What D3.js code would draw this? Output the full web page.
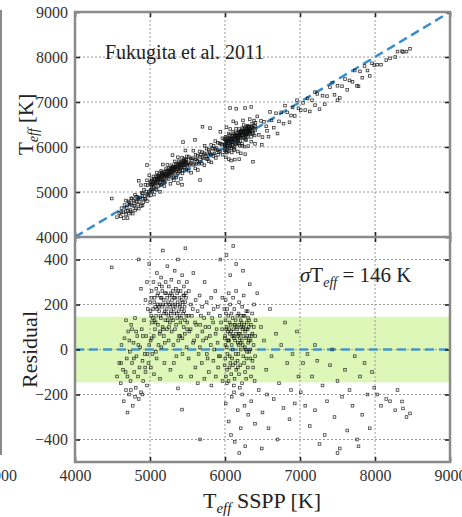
<!DOCTYPE html>
<html>
<head>
<meta charset="utf-8">
<script src="https://cdn.jsdelivr.net/npm/d3@7"></script>
<style>
  body { margin: 0; background: #fff; }
  text { font-family: "Liberation Serif", "DejaVu Serif", serif; fill: #222; }
</style>
</head>
<body>
<div id="chart"></div>
<script>
// Set the dimensions of the figure
const width = 462;
const height = 517;

// tick values for both panels
const tempTicks = [4000, 5000, 6000, 7000, 8000, 9000];
const residTicks = [-400, -200, 0, 200, 400];

// half width of the green residual band
const sigmaT = 146;

// stars as [T_eff SSPP, residual], grouped by temperature
const coolStars = [[4490,365],[4560,-120],[4590,-60],[4610,-150],[4620,20],[4640,-90],[4650,-230],[4660,50],[4680,-180],[4690,-40],
  [4700,-120],[4710,80],[4720,-200],[4730,-10],[4740,-140],[4750,110],[4760,-60],[4770,-250],[4780,30],[4790,-100],
  [4800,140],[4810,-170],[4820,-30],[4830,60],[4840,-120],[4850,400],[4860,-80],[4870,10],[4880,-190],[4890,90],
  [4900,-50],[4910,-140],[4920,130],[4930,-20],[4940,-100],[4950,60],[4960,-160],[4970,180],[4980,-60],[4990,20],
  [4700,-280],[4800,-210],[4900,-200],[4850,-220],[4760,90],[4940,220],[4880,270],[4960,300],[4990,380],[4680,130],
  [4960,640],[4615,-60],[4675,-100],[4725,40],[4785,-40],[4845,20],[4905,60],[4965,-20],[4745,-180],[4815,80],
  [4935,-80]];

const kStars = [[5003,210],[5008,40],[5011,-80],[5016,150],[5022,260],[5027,120],[5031,-20],[5042,180],[5046,300],[5049,60],
  [5053,-110],[5061,230],[5066,90],[5069,190],[5081,150],[5084,270],[5088,-40],[5092,340],[5101,200],[5106,110],
  [5109,250],[5113,20],[5121,170],[5126,290],[5129,70],[5133,-130],[5142,230],[5145,140],[5148,320],[5152,10],
  [5161,190],[5164,260],[5168,100],[5171,440],[5182,220],[5185,60],[5188,160],[5192,-60],[5201,250],[5204,130],
  [5208,300],[5212,200],[5221,180],[5225,90],[5228,230],[5232,370],[5241,210],[5244,150],[5248,40],[5251,280],
  [5262,240],[5265,120],[5269,190],[5272,-90],[5281,170],[5285,310],[5288,80],[5292,220],[5301,200],[5305,260],
  [5308,130],[5312,20],[5322,230],[5325,160],[5329,350],[5332,90],[5341,190],[5345,270],[5348,110],[5352,-30],
  [5361,250],[5364,140],[5368,210],[5372,400],[5381,170],[5385,300],[5388,60],[5392,230],[5401,200],[5405,120],
  [5408,260],[5412,-120],[5421,220],[5425,180],[5428,330],[5432,50],[5441,160],[5445,240],[5448,100],[5452,280],
  [5461,190],[5465,70],[5468,210],[5472,450],[5481,230],[5485,150],[5488,10],[5492,300],[5427,-267],[5373,-173],
  [5440,670],[5300,520],[5095,180],[5155,230],[5215,160],[5275,250],[5335,200],[5395,150],[5455,240],[5137,200],
  [5006,170],[5018,230],[5035,140],[5057,210],[5074,120],[5098,240],[5117,190],[5139,150],[5158,280],[5176,200],
  [5196,170],[5217,250],[5236,130],[5257,200],[5277,160],[5296,240],[5316,180],[5337,230],[5356,160],[5377,260],
  [5397,190],[5416,140],[5437,210],[5457,170],[5477,250],[5497,120],[5023,50],[5078,-10],[5134,80],[5197,30],
  [5253,100],[5318,-60],[5376,40],[5433,-20],[5494,90],[5059,130],[5173,90],[5287,140],[5403,60],[5466,130]];

const gStars = [[5510,150],[5514,-40],[5518,260],[5541,90],[5545,200],[5548,-120],[5571,180],[5575,30],[5578,340],[5601,120],
  [5605,-80],[5608,220],[5631,60],[5635,170],[5638,-150],[5661,240],[5665,10],[5668,110],[5691,-60],[5695,190],
  [5698,80],[5721,140],[5725,-130],[5728,300],[5751,50],[5755,210],[5758,-20],[5781,160],[5785,-100],[5788,100],
  [5811,20],[5815,230],[5818,-160],[5841,120],[5845,-50],[5848,180],[5871,260],[5875,70],[5878,-120],[5901,30],
  [5905,190],[5908,-80],[5931,150],[5935,-30],[5938,400],[5961,90],[5965,230],[5968,-140],[5991,180],[5995,-70],
  [5998,50],[5667,-400],[5600,560],[5800,620],[5700,750],[5525,80],[5558,150],[5588,40],[5615,110],[5648,-20],
  [5678,150],[5708,40],[5738,100],[5768,-40],[5798,60],[5828,140],[5858,0],[5888,90],[5918,-30],[5948,120]];

const fStars = [[6002,60],[6004,-40],[6007,130],[6009,220],[6012,-120],[6021,100],[6024,10],[6027,-90],[6029,180],[6041,40],
  [6044,150],[6047,-140],[6049,250],[6061,120],[6063,-30],[6066,70],[6068,200],[6071,-60],[6081,80],[6084,-110],
  [6087,160],[6089,20],[6101,140],[6103,0],[6106,-70],[6108,230],[6111,90],[6121,50],[6124,180],[6127,-130],
  [6129,110],[6141,130],[6143,-20],[6146,70],[6148,260],[6151,-90],[6161,90],[6164,150],[6167,-50],[6169,30],
  [6181,160],[6183,20],[6186,-110],[6188,210],[6191,110],[6201,70],[6204,-70],[6207,130],[6209,0],[6221,120],
  [6224,40],[6227,-150],[6229,190],[6241,100],[6244,-30],[6247,60],[6249,240],[6261,150],[6264,10],[6267,-100],
  [6269,80],[6281,50],[6284,170],[6287,-40],[6289,120],[6301,90],[6304,-80],[6307,140],[6309,30],[6321,130],
  [6324,-10],[6327,60],[6341,40],[6344,110],[6347,-120],[6361,160],[6364,70],[6367,-50],[6381,20],[6384,100],
  [6387,200],[6401,-30],[6404,60],[6407,130],[6010,-240],[6050,-320],[6090,-210],[6130,-410],[6170,-270],[6210,-350],
  [6230,-200],[6270,-430],[6310,-290],[6350,-230],[6080,-380],[6190,-460],[6260,-250],[6400,-330],[6120,-190],[6020,420],
  [6070,330],[6150,380],[6240,350],[6330,290],[6110,460],[6067,800],[6267,600],[6150,700],[6350,540],[6373,-700],
  [6100,-560],[6055,90],[6135,40],[6215,100],[6295,60],[6175,60],[6255,110],[6006,20],[6016,90],[6033,-20],
  [6053,40],[6076,110],[6094,-40],[6116,60],[6138,-60],[6156,100],[6178,-20],[6196,50],[6213,150],[6236,20],
  [6254,-60],[6276,90],[6293,-10],[6316,100],[6336,0],[6356,60],[6376,-80],[6013,160],[6037,80],[6058,-80],
  [6097,60],[6133,110],[6172,-80],[6206,30],[6233,90],[6278,0],[6318,40],[6026,-150],[6118,-160],[6198,-170],
  [6282,-130],[6395,-140],[6044,40],[6185,70],[6245,150],[6338,-40],[6302,170]];

const hotStars = [[6430,250],[6450,-180],[6480,100],[6500,-280],[6520,40],[6550,-90],[6580,-350],[6600,180],[6620,-30],[6650,-220],
  [6680,70],[6700,-400],[6720,-150],[6750,20],[6780,-260],[6800,120],[6830,-60],[6860,-310],[6880,-180],[6900,-20],
  [6930,-240],[6960,80],[6980,-120],[6490,-440],[6560,-200],[7010,-190],[7040,-60],[7070,-250],[7100,-20],[7130,-340],
  [7160,-120],[7200,-270],[7230,-50],[7260,-420],[7300,-160],[7330,-380],[7360,-230],[7400,-70],[7430,0],[7460,-300],
  [7500,-140],[7530,-440],[7560,-210],[7600,-90],[7630,-360],[7660,-180],[7700,-250],[7730,-30],[7760,-400],[7800,-120],
  [7830,-290],[7860,-60],[7900,-200],[7930,-350],[7960,-100],[7990,-170],[7200,20],[7500,-460],[7780,-430],[8030,-200],
  [8080,-250],[8150,-220],[8200,-230],[8270,-270],[8360,-231],[8420,-300],[8467,-284],[8373,-262],[8300,-180]];

const stars = coolStars.concat(kStars, gStars, fStars, hotStars);

// panel placement
const pLeft = 75, pRight = 450, pTop = 12, pMid = 237, pBottom = 462;

const x = d3.scaleLinear().domain([4000, 9000]).range([pLeft, pRight]);
const yTop = d3.scaleLinear().domain([4000, 9000]).range([pMid, pTop]);
const yRes = d3.scaleLinear().domain([-500, 500]).range([pBottom, pMid]);

const svg = d3.select("#chart")
  .append("svg")
  .attr("width", width)
  .attr("height", height);

// clip paths for the two panels
const defs = svg.append("defs");
defs.append("clipPath").attr("id", "clipTop")
  .append("rect").attr("x", pLeft).attr("y", pTop).attr("width", pRight - pLeft).attr("height", pMid - pTop);
defs.append("clipPath").attr("id", "clipBot")
  .append("rect").attr("x", pLeft).attr("y", pMid).attr("width", pRight - pLeft).attr("height", pBottom - pMid);

// green sigma band in the residual panel
svg.append("rect")
  .attr("x", pLeft)
  .attr("y", yRes(sigmaT))
  .attr("width", pRight - pLeft)
  .attr("height", yRes(-sigmaT) - yRes(sigmaT))
  .style("fill", "#dcf7b8");

// dotted grid lines
const grid = svg.append("g")
  .style("stroke", "#9a9a9a")
  .style("stroke-width", 1)
  .style("stroke-dasharray", "2,2");

grid.selectAll(".vx")
  .data(tempTicks.slice(1, -1))
  .enter()
  .append("line")
  .attr("x1", d => x(d)).attr("x2", d => x(d))
  .attr("y1", pTop).attr("y2", pBottom);

grid.selectAll(".hy")
  .data(tempTicks.slice(1, -1))
  .enter()
  .append("line")
  .attr("x1", pLeft).attr("x2", pRight)
  .attr("y1", d => yTop(d)).attr("y2", d => yTop(d));

grid.selectAll(".hr")
  .data(residTicks)
  .enter()
  .append("line")
  .attr("x1", pLeft).attr("x2", pRight)
  .attr("y1", d => yRes(d)).attr("y2", d => yRes(d));

// one-to-one line and zero line
svg.append("line")
  .attr("x1", x(4000)).attr("y1", yTop(4000))
  .attr("x2", x(9000)).attr("y2", yTop(9000))
  .style("stroke", "#3a8dcc")
  .style("stroke-width", 2.5)
  .style("stroke-dasharray", "9,5");

svg.append("line")
  .attr("x1", pLeft).attr("x2", pRight)
  .attr("y1", yRes(0)).attr("y2", yRes(0))
  .style("stroke", "#4598cc")
  .style("stroke-width", 2.5)
  .style("stroke-dasharray", "9,5");

// points in the upper panel: T_eff = SSPP + residual
svg.append("g")
  .attr("clip-path", "url(#clipTop)")
  .selectAll("rect")
  .data(stars)
  .enter()
  .append("rect")
  .attr("x", d => x(d[0]) - 1.3)
  .attr("y", d => yTop(d[0] + d[1]) - 1.3)
  .attr("width", 2.6)
  .attr("height", 2.6)
  .style("fill", "none")
  .style("stroke", "#111")
  .style("stroke-width", 0.8)
  .style("opacity", 0.85);

// points in the residual panel
svg.append("g")
  .attr("clip-path", "url(#clipBot)")
  .selectAll("rect")
  .data(stars)
  .enter()
  .append("rect")
  .attr("x", d => x(d[0]) - 1.3)
  .attr("y", d => yRes(d[1]) - 1.3)
  .attr("width", 2.6)
  .attr("height", 2.6)
  .style("fill", "none")
  .style("stroke", "#111")
  .style("stroke-width", 0.8)
  .style("opacity", 0.8);

// axes with inward ticks
const fmt = d3.format("d");

function styleAxis(g) {
  g.attr("font-family", null);
  g.select(".domain").remove();
  g.selectAll(".tick line").style("stroke", "#222").style("stroke-width", 1.6);
  g.selectAll(".tick text")
    .style("font-family", "'Liberation Serif', serif")
    .style("font-size", "16px")
    .style("fill", "#333");
}

svg.append("g")
  .attr("transform", "translate(" + pLeft + ",0)")
  .call(d3.axisLeft(yTop).tickValues(tempTicks).tickFormat(fmt).tickSize(-5).tickPadding(7))
  .call(styleAxis);

svg.append("g")
  .attr("transform", "translate(" + pRight + ",0)")
  .call(d3.axisRight(yTop).tickValues(tempTicks).tickFormat("").tickSize(-5))
  .call(styleAxis);

svg.append("g")
  .attr("transform", "translate(" + pLeft + ",0)")
  .call(d3.axisLeft(yRes).tickValues(residTicks).tickFormat(fmt).tickSize(-5).tickPadding(7))
  .call(styleAxis);

svg.append("g")
  .attr("transform", "translate(" + pRight + ",0)")
  .call(d3.axisRight(yRes).tickValues(residTicks).tickFormat("").tickSize(-5))
  .call(styleAxis);

svg.append("g")
  .attr("transform", "translate(0," + pTop + ")")
  .call(d3.axisTop(x).tickValues(tempTicks).tickFormat("").tickSize(-5))
  .call(styleAxis);

svg.append("g")
  .attr("transform", "translate(0," + pMid + ")")
  .call(d3.axisBottom(x).tickValues(tempTicks).tickFormat("").tickSize(5))
  .call(styleAxis);

svg.append("g")
  .attr("transform", "translate(0," + pMid + ")")
  .call(d3.axisTop(x).tickValues(tempTicks).tickFormat("").tickSize(5))
  .call(styleAxis);

svg.append("g")
  .attr("transform", "translate(0," + pBottom + ")")
  .call(d3.axisBottom(x).tickValues(tempTicks).tickFormat(fmt).tickSize(-5).tickPadding(8))
  .call(styleAxis);

// gray frames of the panels
svg.append("rect")
  .attr("x", pLeft).attr("y", pTop)
  .attr("width", pRight - pLeft).attr("height", pBottom - pTop)
  .style("fill", "none")
  .style("stroke", "#8a8a8a")
  .style("stroke-width", 2.5);

svg.append("line")
  .attr("x1", pLeft).attr("x2", pRight)
  .attr("y1", pMid).attr("y2", pMid)
  .style("stroke", "#8a8a8a")
  .style("stroke-width", 2.5);

// edge of the neighbouring panel on the left
svg.append("line")
  .attr("x1", 1).attr("x2", 1)
  .attr("y1", 10).attr("y2", 455)
  .style("stroke", "#8a8a8a")
  .style("stroke-width", 2);

svg.append("text")
  .attr("x", 1)
  .attr("y", pBottom + 8)
  .attr("dy", "0.71em")
  .attr("text-anchor", "middle")
  .style("font-size", "16px")
  .style("fill", "#333")
  .text("9000");

// axis titles
const yTitle = svg.append("text")
  .attr("transform", "translate(33," + (pTop + pMid) / 2 + ") rotate(-90)")
  .attr("text-anchor", "middle")
  .style("font-size", "21px");
yTitle.append("tspan").text("T");
yTitle.append("tspan").attr("dy", 5).style("font-size", "14px").style("font-style", "italic").text("eff");
yTitle.append("tspan").attr("dy", -5).text(" [K]");

svg.append("text")
  .attr("transform", "translate(37," + yRes(0) + ") rotate(-90)")
  .attr("text-anchor", "middle")
  .style("font-size", "22px")
  .text("Residual");

const xTitle = svg.append("text")
  .attr("x", 262)
  .attr("y", 508)
  .attr("text-anchor", "middle")
  .style("font-size", "22px");
xTitle.append("tspan").text("T");
xTitle.append("tspan").attr("dy", 5).style("font-size", "15px").style("font-style", "italic").text("eff");
xTitle.append("tspan").attr("dy", -5).text(" SSPP [K]");

// annotations
svg.append("text")
  .attr("x", 105)
  .attr("y", 59)
  .style("font-size", "20px")
  .text("Fukugita et al. 2011");

const sig = svg.append("text")
  .attr("x", 300)
  .attr("y", 282)
  .style("font-size", "21px");
sig.append("tspan").style("font-style", "italic").text("σ");
sig.append("tspan").text("T");
sig.append("tspan").attr("dy", 5).style("font-size", "14px").style("font-style", "italic").text("eff");
sig.append("tspan").attr("dy", -5).text(" = 146 K");
</script>
</body>
</html>
